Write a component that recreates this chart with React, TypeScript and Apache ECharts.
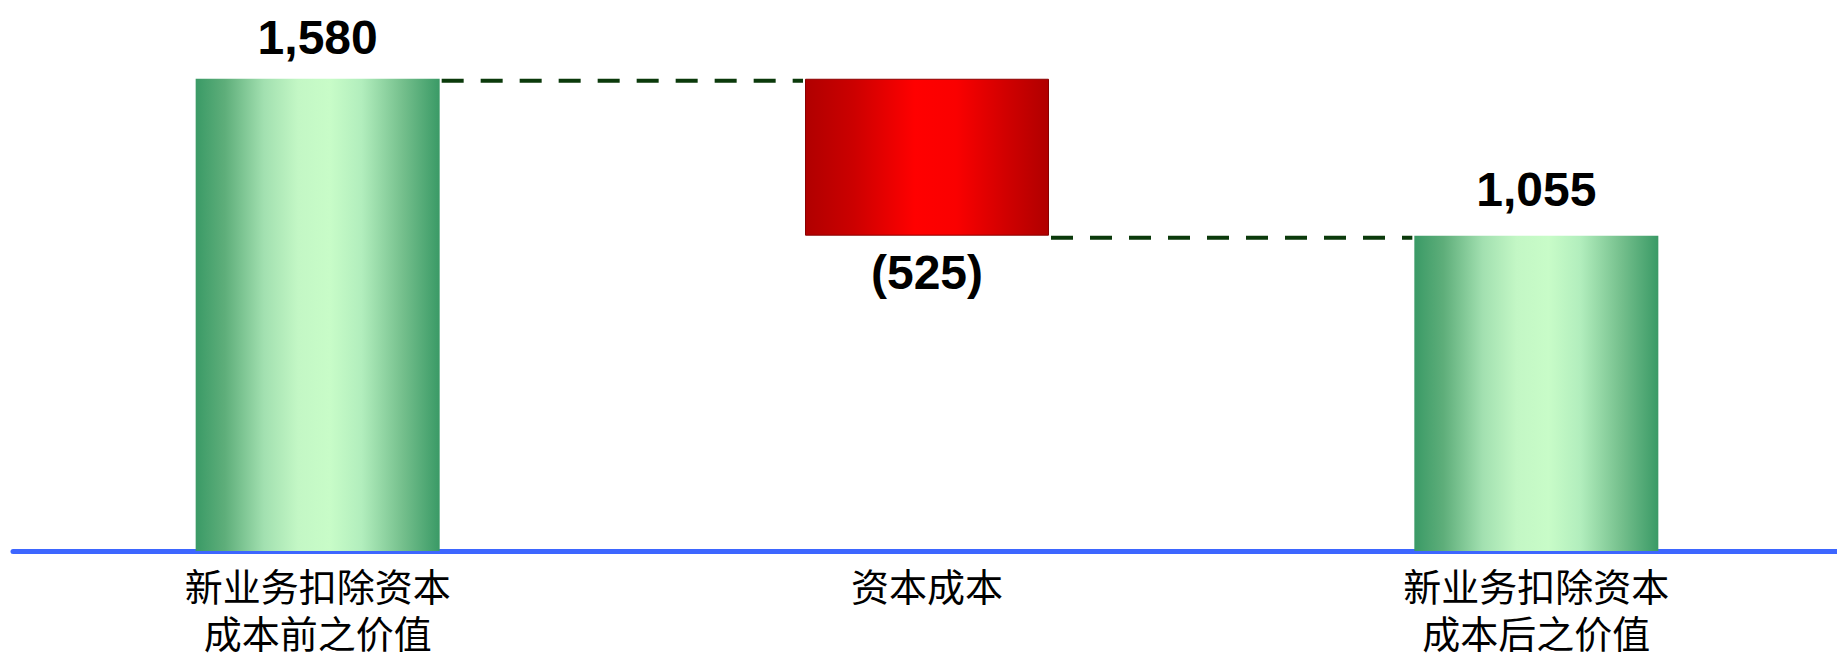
import React, { useEffect, useRef } from 'react';
import * as echarts from 'echarts';

// ---- data ----
const categories = ['新业务扣除资本\n成本前之价值', '资本成本', '新业务扣除资本\n成本后之价值'];
const changes = [1580, -525, 1055];
const kinds = ['total', 'delta', 'total'];

// ---- derived waterfall pieces ----
const bases: number[] = [];
const heights: number[] = [];
const connectors: number[][] = [];
let running = 0;
changes.forEach((v, i) => {
  if (kinds[i] === 'total') {
    bases.push(0);
    heights.push(v);
    running = v;
  } else {
    running += v;
    bases.push(v < 0 ? running : running - v);
    heights.push(Math.abs(v));
  }
  if (i < changes.length - 1) connectors.push([i, running]);
});

const fmt = (n: number) => (n < 0 ? `(${(-n).toLocaleString('en-US')})` : n.toLocaleString('en-US'));

const BAR_WIDTH = 244;
const LABEL_DISTANCES = [17, 13, 22];

const greenGrad = new echarts.graphic.LinearGradient(0, 0, 1, 0, [
  { offset: 0, color: '#3a9a66' },
  { offset: 0.12, color: '#5eae7a' },
  { offset: 0.28, color: '#a2e0b0' },
  { offset: 0.42, color: '#c3f7c5' },
  { offset: 0.55, color: '#c8fcc8' },
  { offset: 0.68, color: '#b2eebd' },
  { offset: 0.85, color: '#74bf8c' },
  { offset: 1, color: '#3a9a66' },
]);
const redGrad = new echarts.graphic.LinearGradient(0, 0, 1, 0, [
  { offset: 0, color: '#b00000' },
  { offset: 0.2, color: '#cc0000' },
  { offset: 0.45, color: '#ff0000' },
  { offset: 0.62, color: '#fa0000' },
  { offset: 0.85, color: '#cc0000' },
  { offset: 1, color: '#b00000' },
]);

export default function App() {
  const ref = useRef<HTMLDivElement>(null);
  useEffect(() => {
    if (!ref.current) return;
    const chart = echarts.init(ref.current, undefined, { renderer: 'svg' });
    chart.setOption({
      animation: false,
      backgroundColor: '#ffffff',
      grid: {
        left: 13,
        right: -4,
        top: 13,
        bottom: 103,
        containLabel: false,
        outerBoundsMode: 'none',
      },
      xAxis: {
        type: 'category',
        data: categories,
        axisTick: { show: false },
        axisLine: { lineStyle: { color: '#3d66ff', width: 5 } },
        axisLabel: {
          color: '#000',
          fontFamily: 'Noto Sans CJK SC',
          fontSize: 38,
          lineHeight: 47,
          margin: 10,
          interval: 0,
        },
      },
      yAxis: {
        type: 'value',
        min: 0,
        max: 1800,
        show: false,
        splitLine: { show: false },
      },
      series: [
        {
          type: 'bar',
          stack: 'w',
          data: bases,
          barWidth: BAR_WIDTH,
          itemStyle: { color: 'transparent' },
          silent: true,
        },
        {
          type: 'bar',
          stack: 'w',
          barWidth: BAR_WIDTH,
          data: heights.map((h, i) => {
            const neg = changes[i] < 0;
            return {
              value: h,
              itemStyle: neg
                ? { color: redGrad, borderColor: '#8a0000', borderWidth: 1 }
                : { color: greenGrad },
              label: {
                show: true,
                position: neg ? 'bottom' : 'top',
                distance: LABEL_DISTANCES[i],
                formatter: () => fmt(changes[i]),
                color: '#000',
                fontFamily: 'Liberation Sans, Arial, sans-serif',
                fontWeight: 'bold',
                fontSize: 48,
              },
            };
          }),
        },
        {
          type: 'custom',
          data: connectors,
          z: 5,
          renderItem: (params: any, api: any) => {
            const i = api.value(0);
            const v = api.value(1);
            const p = api.coord([i, v]);
            const q = api.coord([i + 1, v]);
            return {
              type: 'line',
              shape: { x1: p[0] + BAR_WIDTH / 2 + 2, y1: p[1] + 2, x2: q[0] - BAR_WIDTH / 2 - 2, y2: q[1] + 2 },
              style: { stroke: '#0b3a0b', lineWidth: 4, lineDash: [22, 17] },
            };
          },
        },
      ],
    });
    return () => chart.dispose();
  }, []);
  return (
    <div
      ref={ref}
      style={{ position: 'fixed', left: 0, top: 0, width: 1837, height: 654 }}
    />
  );
}
